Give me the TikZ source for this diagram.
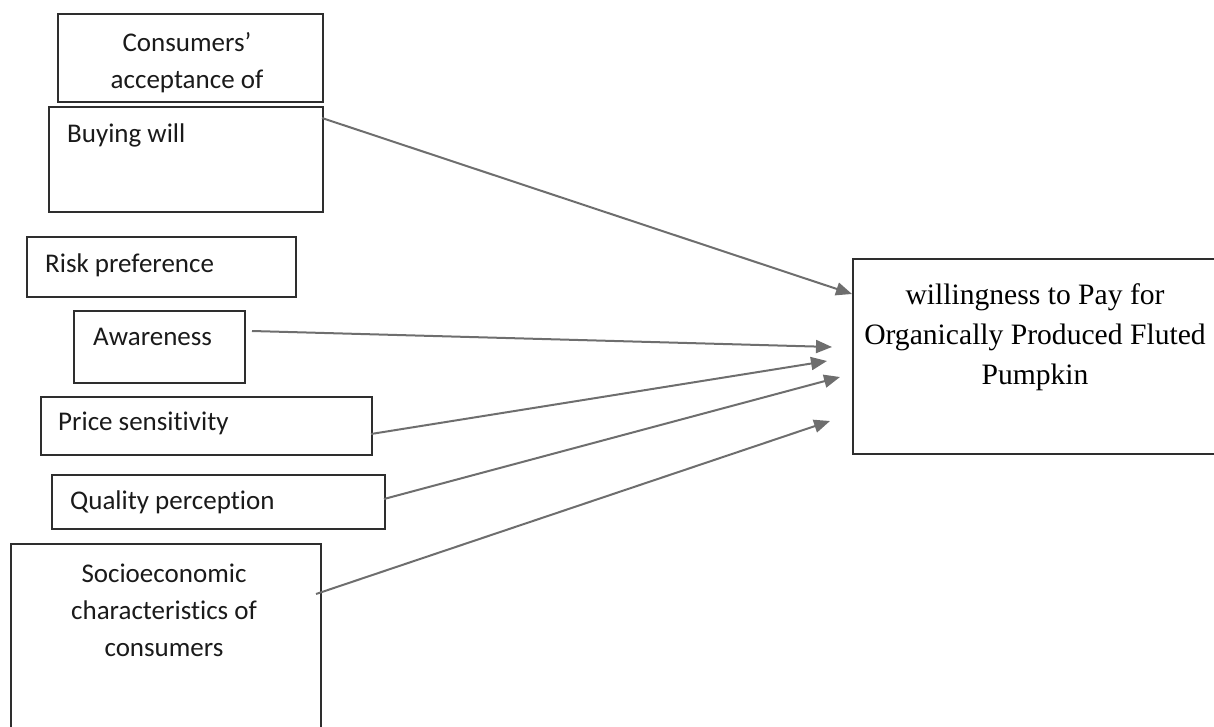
\documentclass[tikz,border=0pt]{standalone}
\usepackage{fontspec}
\setmainfont{Carlito}[Ligatures=NoCommon,Contextuals=NoAlternate]
\newfontfamily\serifmain{Liberation Serif}
\usetikzlibrary{arrows.meta}
\definecolor{boxline}{HTML}{2E2E2E}
\definecolor{arrowgray}{HTML}{6E6E6E}
\definecolor{txt}{HTML}{1A1A1A}
\begin{document}
\begin{tikzpicture}[x=1pt,y=-1pt,
  box/.style={draw=boxline,line width=1.6pt,inner sep=0pt,anchor=north west},
  lbl/.style={inner sep=0pt,text=txt,font=\fontsize{27}{37}\selectfont},
  rlbl/.style={inner sep=0pt,text=black,align=center,font=\serifmain\fontsize{29.6}{40}\selectfont},
  conn/.style={draw=arrowgray,line width=2pt,-{Triangle[length=16pt,width=13pt]}}]
\useasboundingbox (0,0) rectangle (1214,727);
\clip (0,0) rectangle (1214,727);
% boxes
\node[box,minimum width=265pt,minimum height=88pt] (acc) at (57,13) {};
\node[box,minimum width=274pt,minimum height=105pt] (buy) at (48,106) {};
\node[box,minimum width=269pt,minimum height=60pt] (risk) at (26,236) {};
\node[box,minimum width=171pt,minimum height=72pt] (aw) at (73,310) {};
\node[box,minimum width=331pt,minimum height=58pt] (price) at (40,396) {};
\node[box,minimum width=333pt,minimum height=54pt] (qual) at (51,474) {};
\node[box,minimum width=310pt,minimum height=200pt] (soc) at (10,543) {};
\node[box,minimum width=380pt,minimum height=195pt] (wtp) at (852,258) {};
% texts
\begin{scope}
\clip (57,13) rectangle (322,101);
\node[lbl,align=center] (acct) at (187,63) {Consumers’\\acceptance of};
\end{scope}
\node[lbl,anchor=west] (buyt) at (67,135) {Buying will};
\node[lbl,anchor=west] (riskt) at (45,265) {Risk preference};
\node[lbl,anchor=west] (awt) at (93,337) {Awareness};
\node[lbl,anchor=west] (pricet) at (58,423) {Price sensitivity};
\node[lbl,anchor=west] (qualt) at (70,502) {Quality perception};
\node[lbl,align=center] (soct) at (164,610) {Socioeconomic\\characteristics of\\consumers};
\node[rlbl] (wtpt) at (1035,337) {willingness to Pay for\\Organically Produced Fluted\\Pumpkin};
% connector end points
\coordinate (s1) at (322,118);
\coordinate (e1) at (852,294);
\coordinate (s2) at (252,331);
\coordinate (e2) at (832,347);
\coordinate (s3) at (371,434);
\coordinate (e3) at (827,361);
\coordinate (s4) at (384,499);
\coordinate (e4) at (840,377);
\coordinate (s5) at (316,594);
\coordinate (e5) at (830,421);
\draw[conn] (s1) -- (e1);
\draw[conn] (s2) -- (e2);
\draw[conn] (s3) -- (e3);
\draw[conn] (s4) -- (e4);
\draw[conn] (s5) -- (e5);
\end{tikzpicture}
\end{document}
